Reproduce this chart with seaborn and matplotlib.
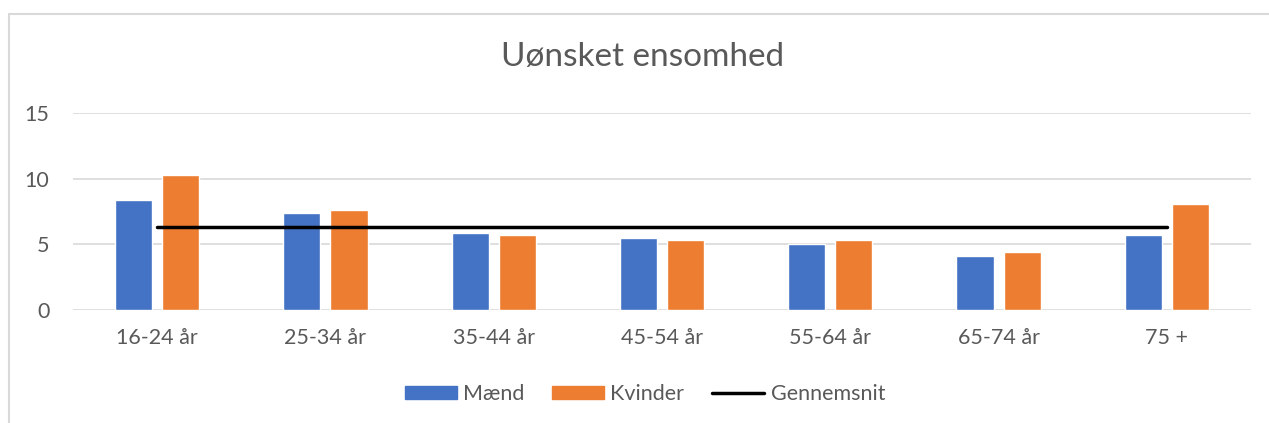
import seaborn as sns
import numpy as np
import pandas as pd
import matplotlib.pyplot as plt
from matplotlib.patches import Rectangle

# Data
kategorier = ["16-24 år", "25-34 år", "35-44 år", "45-54 år", "55-64 år", "65-74 år", "75 +"]
maend = [8.4, 7.4, 5.9, 5.5, 5.0, 4.1, 5.7]
kvinder = [10.3, 7.6, 5.7, 5.3, 5.3, 4.4, 8.1]
gennemsnit = [6.3, 6.3, 6.3, 6.3, 6.3, 6.3, 6.3]
yticks = [0, 5, 10, 15]

df = pd.DataFrame({
    "Alder": kategorier * 2,
    "Værdi": maend + kvinder,
    "Køn": ["Mænd"] * len(kategorier) + ["Kvinder"] * len(kategorier),
})

sns.set_style("white")
plt.rcParams['font.family'] = ['Lato', 'DejaVu Sans']
txt = "#595959"
grid = "#d9d9d9"
blaa = "#4472C4"
orange = "#ED7D31"

fig = plt.figure(figsize=(12.69, 4.23), dpi=100)
ax = fig.add_axes([73 / 1269, 1 - 310 / 423, 1178 / 1269, 197 / 423])

sns.barplot(data=df, x="Alder", y="Værdi", hue="Køn", order=kategorier,
            hue_order=["Mænd", "Kvinder"],
            palette={"Mænd": blaa, "Kvinder": orange}, saturation=1,
            width=0.56, gap=0.21, ax=ax, legend=False, zorder=3)
ax.plot(kategorier, gennemsnit, color="black", lw=2.5, label="Gennemsnit", zorder=4)

ax.set_xlim(-0.5, 6.5)
ax.set_ylim(0, 15)
ax.set_yticks(yticks)
ax.yaxis.grid(True, color=grid, lw=1.2, zorder=0)
ax.set_axisbelow(True)
for s in ax.spines.values():
    s.set_visible(False)
ax.set_xlabel("")
ax.set_ylabel("")
ax.tick_params(axis="y", length=0, pad=17, labelsize=15.5, labelcolor=txt)
ax.tick_params(axis="x", length=0, pad=13, labelsize=15.5, labelcolor=txt)

fig.text(643 / 1269, 1 - 57 / 423, "Uønsket ensomhed", ha="center", va="center",
         fontsize=24, color=txt)

handles = [Rectangle((0, 0), 1, 1, color=blaa),
           Rectangle((0, 0), 1, 1, color=orange),
           plt.Line2D([0], [0], color="black", lw=2.5)]
leg = fig.legend(handles, ["Mænd", "Kvinder", "Gennemsnit"], loc="center",
                 bbox_to_anchor=(645 / 1269, 1 - 394 / 423), ncol=3, frameon=False,
                 fontsize=15.5, handlelength=2.4, handleheight=0.6,
                 handletextpad=0.3, columnspacing=1.3)
for t in leg.get_texts():
    t.set_color(txt)

# chart frame
fig.add_artist(Rectangle((9 / 1269, -0.1), 2, 1.1 - 14 / 423, transform=fig.transFigure,
                         fill=False, edgecolor=grid, lw=1.5))

fig.savefig("out.png", dpi=100)
